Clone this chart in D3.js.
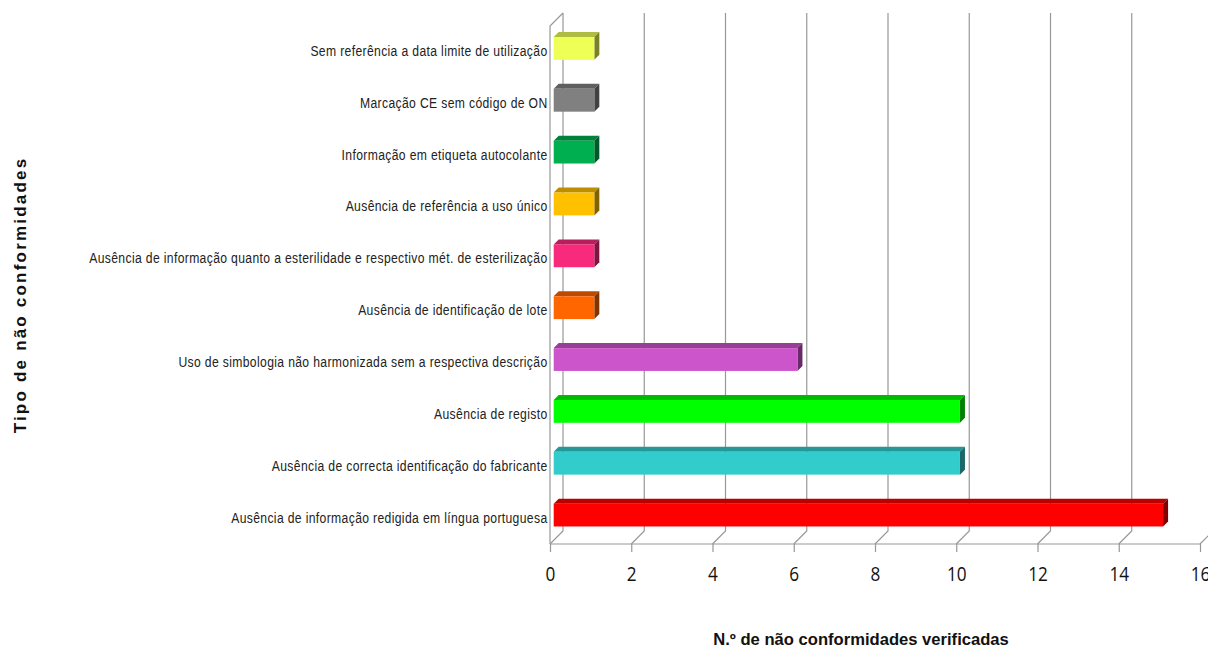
<!DOCTYPE html>
<html>
<head>
<meta charset="utf-8">
<script src="https://cdn.jsdelivr.net/npm/d3@7"></script>
<style>
  html, body { margin: 0; padding: 0; background: #fff; }
  svg { display: block; }
  .y-axis text { font-family: "Liberation Sans", sans-serif; font-size: 15px; fill: #222; letter-spacing: 0.45px; }
  .x-axis text { font-family: "Open Sans", sans-serif; font-size: 20px; fill: #111; }
  .title { font-family: "Liberation Sans", sans-serif; font-weight: bold; fill: #111; }
</style>
</head>
<body>
<div id="chart"></div>
<script>
const categories = [
  "Sem referência a data limite de utilização",
  "Marcação CE sem código de ON",
  "Informação em etiqueta autocolante",
  "Ausência de referência a uso único",
  "Ausência de informação quanto a esterilidade e respectivo mét. de esterilização",
  "Ausência de identificação de lote",
  "Uso de simbologia não harmonizada sem a respectiva descrição",
  "Ausência de registo",
  "Ausência de correcta identificação do fabricante",
  "Ausência de informação redigida em língua portuguesa"
];
const counts = [1, 1, 1, 1, 1, 1, 6, 10, 10, 15];
const barColors = ["#EEFF55", "#808080", "#00B050", "#FFC000", "#F72A7C", "#FF6600", "#CC55CC", "#00FF00", "#33CCCC", "#FF0000"];
const xTicks = [0, 2, 4, 6, 8, 10, 12, 14, 16];

const width = 1208, height = 648;
const floorY = 544, wallTop = 26, depth = 13, barDepth = 5, barInset = 3.7;
const gridColor = "#989898";

const svg = d3.select("#chart").append("svg")
  .attr("width", width)
  .attr("height", height);

const x = d3.scaleLinear().domain([0, 16]).range([550, 1200]);
const y = d3.scaleBand()
  .domain(categories)
  .range([22.5, 541])
  .paddingInner(0.56)
  .paddingOuter(0.28);

// back wall gridlines and the slanted floor lines
const grid = svg.append("g").attr("stroke", gridColor).attr("stroke-width", 1.2).attr("fill", "none");
grid.selectAll("path.wall")
  .data(xTicks.slice(0, -1))
  .join("path")
  .attr("class", "wall")
  .attr("d", d => `M${x(d)},${floorY}L${x(d) + depth},${floorY - depth}V${wallTop - depth}`);
grid.append("path").attr("d", `M${x(16)},${floorY}l${depth},${-depth}`);

// left wall
grid.append("path").attr("d", `M${x(0)},${floorY}V${wallTop}l${depth},${-depth}`);

// bars, front / top / side
const bars = svg.append("g").selectAll("g")
  .data(categories)
  .join("g");

bars.append("path")
  .attr("fill", (d, i) => d3.color(barColors[i]).darker(0.85))
  .attr("d", (d, i) => {
    const x0 = x(0) + barInset, x1 = x(counts[i]) + barInset, t = y(d);
    return `M${x0},${t}L${x0 + barDepth},${t - barDepth}H${x1 + barDepth}L${x1},${t}Z`;
  });

bars.append("path")
  .attr("fill", (d, i) => d3.color(barColors[i]).darker(1.9))
  .attr("d", (d, i) => {
    const x1 = x(counts[i]) + barInset, t = y(d), b = t + y.bandwidth();
    return `M${x1},${t}L${x1 + barDepth},${t - barDepth}V${b - barDepth}L${x1},${b}Z`;
  });

bars.append("rect")
  .attr("x", x(0) + barInset)
  .attr("y", d => y(d))
  .attr("width", (d, i) => x(counts[i]) - x(0))
  .attr("height", y.bandwidth())
  .attr("fill", (d, i) => barColors[i]);

// axes
const xAxis = svg.append("g")
  .attr("class", "x-axis")
  .attr("transform", `translate(0,${floorY})`)
  .call(d3.axisBottom(x).tickValues(xTicks).tickSize(8).tickPadding(15));
xAxis.selectAll("line, path").attr("stroke", gridColor).attr("stroke-width", 1.2);
xAxis.select(".domain").attr("d", `M${x(0)},0H${x(16)}`);
xAxis.selectAll("text").attr("transform", "scale(0.86,1)");

const yAxis = svg.append("g")
  .attr("class", "y-axis")
  .attr("transform", "translate(547.5,0)")
  .call(d3.axisLeft(y).tickSize(0).tickPadding(0));
yAxis.select(".domain").remove();
// the labels are squeezed sideways, no narrow font is installed
yAxis.selectAll("text")
  .attr("x", 0)
  .attr("dy", "0.5em")
  .attr("transform", "scale(0.81,1)");

// titles
svg.append("text")
  .attr("class", "title")
  .attr("x", 861)
  .attr("y", 644.5)
  .attr("text-anchor", "middle")
  .attr("font-size", 16.6)
  .text("N.º de não conformidades verificadas");

svg.append("text")
  .attr("class", "title")
  .attr("transform", "translate(26,295) rotate(-90)")
  .attr("text-anchor", "middle")
  .attr("font-size", 17)
  .attr("letter-spacing", 2.2)
  .text("Tipo de não conformidades");
</script>
</body>
</html>
